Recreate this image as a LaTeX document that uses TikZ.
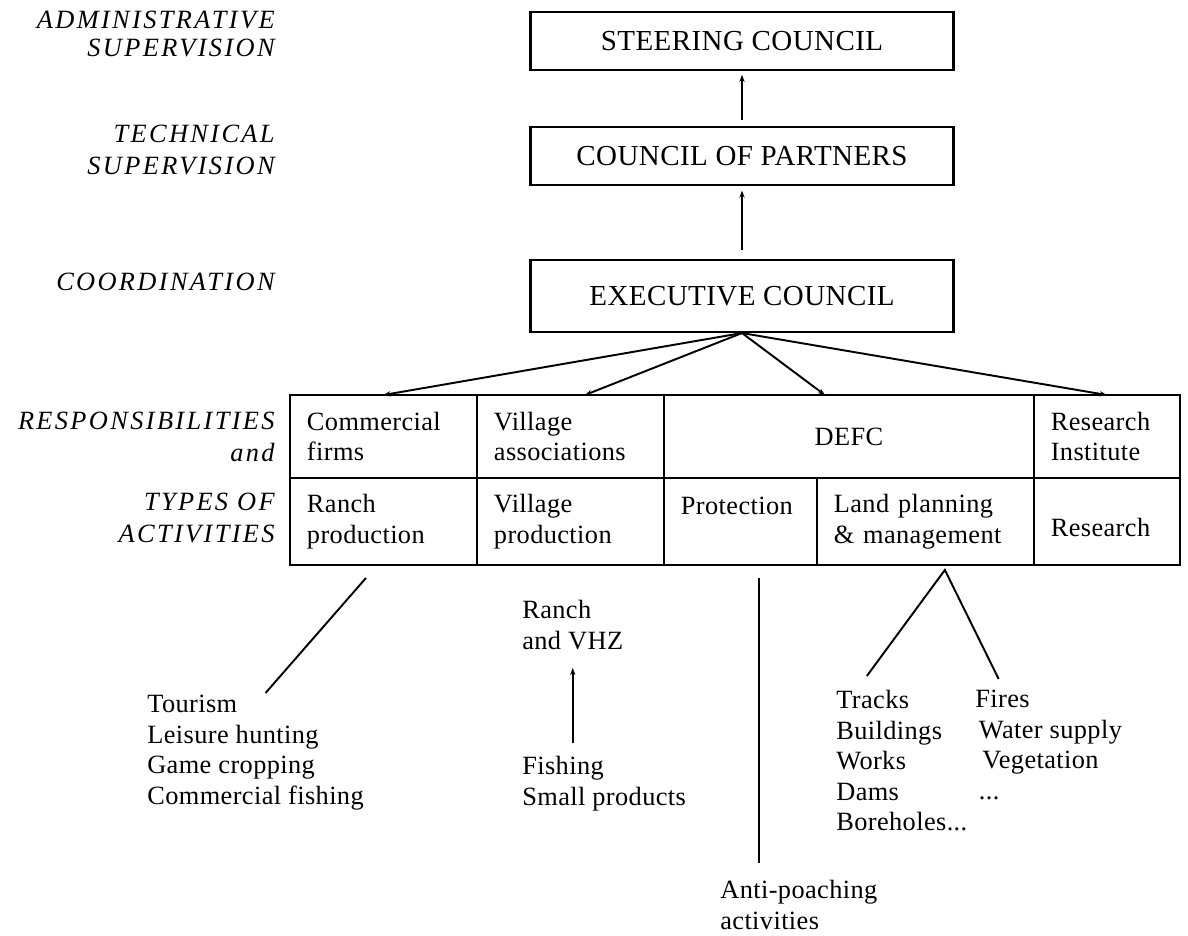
\documentclass[tikz,border=0pt]{standalone}
\usepackage{fontspec}
\setmainfont{Liberation Serif}[LetterSpace=1.5]
\newfontfamily\levelfont{Liberation Serif}[LetterSpace=9]
\usetikzlibrary{positioning,arrows.meta}

\begin{document}
\begin{tikzpicture}[x=0.02cm,y=-0.02cm,font=\fontsize{15}{17.4}\selectfont,
  council/.style={draw,line width=1.2pt,minimum width=8.46cm,font=\fontsize{16.5}{18}\selectfont},
  level/.style={anchor=east,align=right,inner sep=0pt,font=\levelfont\itshape\fontsize{15}{18}\selectfont},
  cell/.style={draw,line width=1.2pt,outer sep=0pt,align=left,inner xsep=0.34cm,inner ysep=0pt,anchor=north west},
  rowa/.style={cell,minimum height=1.66cm},
  rowb/.style={cell,minimum height=1.74cm},
  list/.style={anchor=north west,align=left,inner sep=0pt},
  link/.style={line width=1.1pt,-{Stealth[length=4pt,width=3pt]}},
  plain/.style={line width=1.1pt}]
   \useasboundingbox (0,0) rectangle (1188,936);

   \node[level] (admin) at (275,34) {ADMINISTRATIVE\\[-2.5pt]SUPERVISION};
   \node[level] (tech) at (275,150) {TECHNICAL\\SUPERVISION};
   \node[level] (coord) at (275,282) {COORDINATION};
   \node[level] (resp) at (275,437) {RESPONSIBILITIES\\and};
   \node[level] (types) at (275,518) {TYPES OF\\ACTIVITIES};

   \node[council,minimum height=1.16cm] (steering) at (742,41) {STEERING COUNCIL};
   \node[council,minimum height=1.16cm] (partners) at (742,156) {COUNCIL OF PARTNERS};
   \node[council,minimum height=1.44cm] (executive) at (742,296) {EXECUTIVE COUNCIL};

   \node[rowa,text width=3.06cm] (firms) at (290,395) {Commercial\\firms};
   \node[rowa,text width=3.06cm,right=0pt of firms] (assoc) {Village\\associations};
   \node[rowa,text width=6.72cm,align=center,right=0pt of assoc] (defc) {DEFC};
   \node[rowa,text width=2.24cm,right=0pt of defc] (inst) {Research\\Institute};
   \node[rowb,text width=3.06cm,below=0pt of firms] (ranch) {Ranch\\production};
   \node[rowb,text width=3.06cm,right=0pt of ranch] (village) {Village\\production};
   \node[rowb,text width=2.38cm,right=0pt of village] (protect) {Protection\\\mbox{}};
   \node[rowb,text width=3.66cm,right=0pt of protect] (land) {Land planning\\\& management};
   \node[rowb,text width=2.24cm,right=0pt of land] (research) {\mbox{}\\Research};

   \node[list] (ranchlist) at (147,695) {Tourism\\Leisure hunting\\Game cropping\\Commercial fishing};
   \node[list] (vhz) at (522,600) {Ranch\\and VHZ};
   \node[list] (fishlist) at (522,756) {Fishing\\Small products};
   \node[list] (antipoach) at (720,880) {Anti-poaching\\activities};
   \node[list] (works) at (836,690) {Tracks\\Buildings\\Works\\Dams\\Boreholes...};
   \node[list] (fires) at (975,690) {Fires\\\hspace{2pt}Water supply\\\hspace{4pt}Vegetation\\\hspace{2pt}...};

   \draw[link,shorten <=3.4pt,shorten >=2.2pt] (partners.north) -- (steering.south);
   \draw[link,shorten <=5pt,shorten >=2.6pt] (executive.north) -- (partners.south);
   \draw[link] (executive.south) -- (firms.north);
   \draw[link] (executive.south) -- ([xshift=0.29cm]assoc.north);
   \draw[link] (executive.south) -- ([xshift=-0.48cm]defc.north);
   \draw[link] (executive.south) -- (inst.north);

   \draw[plain] ([xshift=-0.35cm,yshift=-0.26cm]ranch.south) -- ([xshift=0.2cm,yshift=0.04cm]ranchlist.north);
   \draw[link] ([yshift=0.26cm]vhz.south |- fishlist.north) -- ([yshift=-0.36cm]vhz.south);
   \draw[plain] ([xshift=0.37cm,yshift=-0.26cm]protect.south) -- ([xshift=0.37cm,yshift=0.34cm]protect.south |- antipoach.north);
   \draw[plain] ([xshift=-0.7cm,yshift=0.28cm]works.north) -- ([xshift=0.39cm,yshift=-0.1cm]land.south) -- ([xshift=-1cm,yshift=0.22cm]fires.north);
\end{tikzpicture}
\end{document}
